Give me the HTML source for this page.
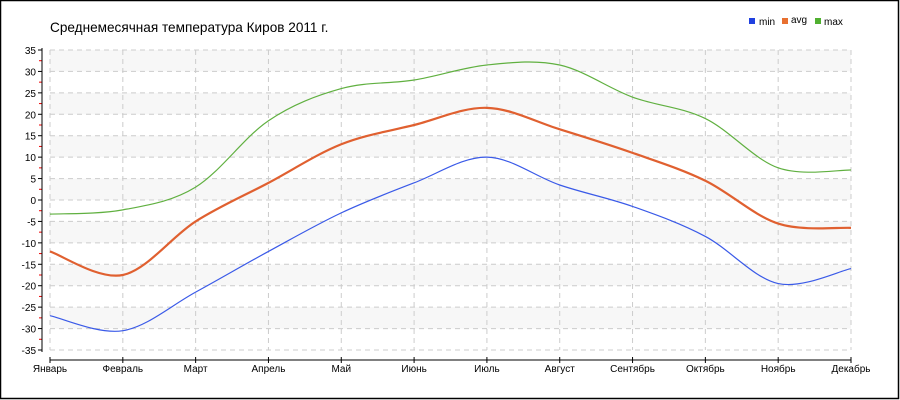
<!DOCTYPE html>
<html><head><meta charset="utf-8"><style>
body{margin:0;background:#fff}
svg{display:block;font-family:"Liberation Sans",sans-serif}
</style></head><body>
<svg id="s" width="900" height="400" viewBox="0 0 900 400">
<rect x="0.5" y="0.5" width="898" height="398" fill="#fff" stroke="#000" stroke-width="1.5"/>
<text x="50" y="32" font-size="13.6" fill="#000">Среднемесячная температура Киров  2011 г.</text>
<rect x="749" y="18" width="6" height="6" fill="#2040e0"/><text x="759" y="25" font-size="10">min</text>
<rect x="782" y="18" width="6" height="6" fill="#e87030"/><text x="791" y="23" font-size="10">avg</text>
<rect x="815" y="18" width="6" height="6" fill="#50b030"/><text x="824" y="25" font-size="10">max</text>
<g id="g"></g>
</svg>
<script>
var g=document.getElementById('g'),h='';
function Y(v){return 200-v*300/70;}
var x0=50,dx=(851-50)/11;
for(var v=35;v>-35;v-=5){ if(((35-v)/5)%2==0) h+='<rect x="50" y="'+Y(v)+'" width="801" height="'+(300/14)+'" fill="#f7f7f7"/>';}
for(var v=-35;v<=35;v+=5){var y=Y(v);
 h+='<line x1="50" x2="851" y1="'+y+'" y2="'+y+'" stroke="#ccc" stroke-dasharray="5,4"/>';
 h+='<line x1="38" x2="42" y1="'+y+'" y2="'+y+'" stroke="#000"/>';
 h+='<text x="36" y="'+(y+4)+'" font-size="10" text-anchor="end">'+v+'</text>';
 if(v<35)h+='<line x1="39" x2="42" y1="'+(y-300/28)+'" y2="'+(y-300/28)+'" stroke="#e00"/>';}
var m=['Январь','Февраль','Март','Апрель','Май','Июнь','Июль','Август','Сентябрь','Октябрь','Ноябрь','Декабрь'];
for(var i=0;i<12;i++){var x=x0+i*dx;
 h+='<line x1="'+x+'" x2="'+x+'" y1="50" y2="350" stroke="#ccc" stroke-dasharray="5,4"/>';
 h+='<line x1="'+x+'" x2="'+x+'" y1="357" y2="363" stroke="#000"/>';
 h+='<text x="'+x+'" y="372" font-size="10" text-anchor="middle">'+m[i]+'</text>';}
h+='<line x1="42" x2="42" y1="48" y2="352" stroke="#000"/><line x1="50" x2="851" y1="360" y2="360" stroke="#000"/>';
function path(d){var p=d.map(function(v,i){return [x0+i*dx,Y(v)]});var s='M'+p[0][0]+','+p[0][1];
 for(var i=0;i<p.length-1;i++){var a=p[i-1]||p[i],b=p[i],c=p[i+1],e=p[i+2]||c;
  s+=' C'+(b[0]+(c[0]-a[0])/6)+','+(b[1]+(c[1]-a[1])/6)+' '+(c[0]-(e[0]-b[0])/6)+','+(c[1]-(e[1]-b[1])/6)+' '+c[0]+','+c[1];}return s;}
h+='<path d="'+path([-27,-30.5,-21.5,-12,-3,4,10,3.5,-1.5,-8.5,-19.5,-16])+'" fill="none" stroke="#3a5ae8" stroke-width="1.2"/>';
h+='<path d="'+path([-3.3,-2.3,3,18.5,26,28,31.5,31.5,24,19,7.5,7])+'" fill="none" stroke="#60b040" stroke-width="1.2"/>';
h+='<path d="'+path([-12,-17.5,-5,4,13,17.5,21.5,16.5,11,4.5,-5.5,-6.5])+'" fill="none" stroke="#e06030" stroke-width="2.2"/>';
g.innerHTML=h;
</script>
</body></html>
